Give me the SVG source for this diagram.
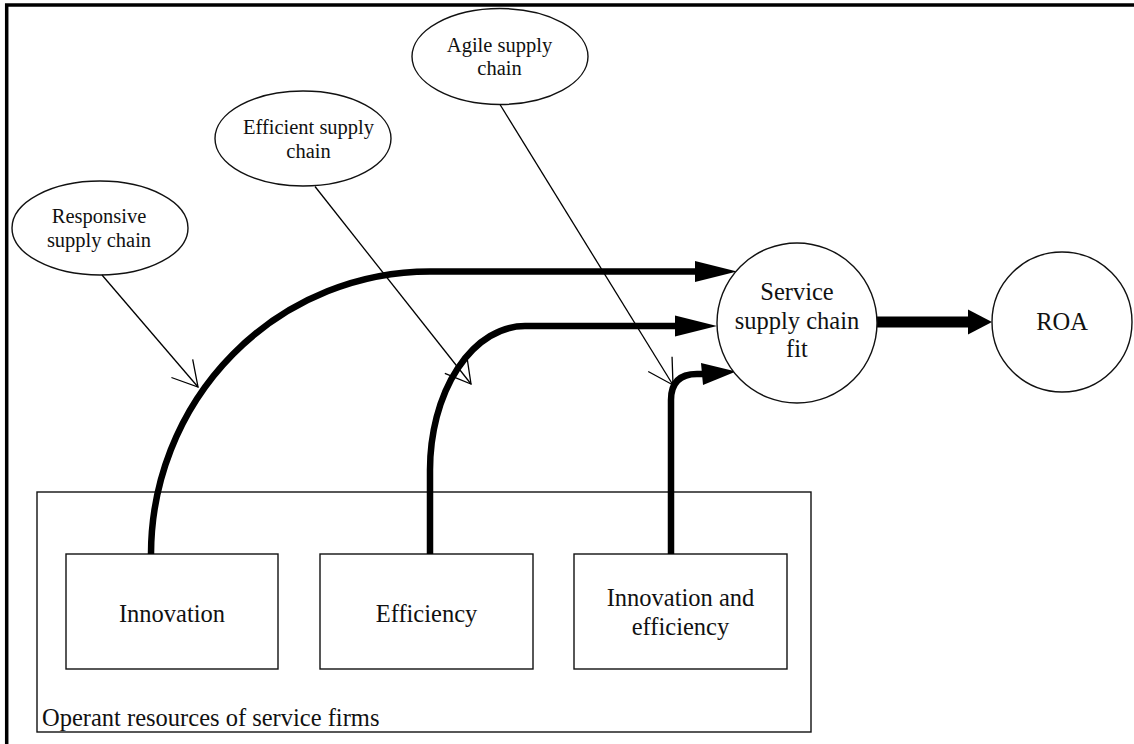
<svg xmlns="http://www.w3.org/2000/svg" width="1134" height="744" viewBox="0 0 1134 744">
<style>
.t{font-family:"Liberation Serif","DejaVu Serif",serif;fill:#111;text-anchor:middle}
.s{font-size:20.5px}
.b{font-size:24.5px}
.shape{fill:#fff;stroke:#111;stroke-width:1.4}
.thin{fill:none;stroke:#000;stroke-width:1.3}
.thick{fill:none;stroke:#000;stroke-width:6.5}
.head{fill:#000;stroke:none}
</style>
<defs>
<marker id="open" markerUnits="userSpaceOnUse" markerWidth="40" markerHeight="40" viewBox="-30 -20 40 40" refX="0" refY="0" orient="auto" overflow="visible">
<path d="M-24.5,-14 L0,0 L-24.5,14" fill="none" stroke="#000" stroke-width="1.3"/>
</marker>
</defs>
<rect width="1134" height="744" fill="#fff"/>
<path d="M6.7,744 L6.7,5 L1134,5" fill="none" stroke="#000" stroke-width="3.5"/>

<g font-family="Liberation Serif, DejaVu Serif, serif">
<g id="container">
<rect class="shape" x="37" y="492" width="774" height="240"/>
<text class="t b" x="42" y="726" text-anchor="start" style="text-anchor:start">Operant resources of service firms</text>
</g>

<g id="innovation">
<rect class="shape" x="66" y="554" width="212" height="115"/>
<text class="t b" x="172" y="621.5">Innovation</text>
</g>
<g id="efficiency">
<rect class="shape" x="320" y="554" width="213" height="115"/>
<text class="t b" x="426.5" y="621.5">Efficiency</text>
</g>
<g id="innov-eff">
<rect class="shape" x="574" y="554" width="213" height="115"/>
<text class="t b" x="680.5" y="606">Innovation and</text>
<text class="t b" x="680.5" y="635">efficiency</text>
</g>

<g id="responsive">
<ellipse class="shape" cx="100" cy="228" rx="88" ry="47"/>
<text class="t s" x="99" y="222.5">Responsive</text>
<text class="t s" x="99" y="246.5">supply chain</text>
</g>
<g id="efficient">
<ellipse class="shape" cx="303" cy="138.5" rx="88" ry="47.5"/>
<text class="t s" x="308.5" y="133.5">Efficient supply</text>
<text class="t s" x="308.5" y="157.5">chain</text>
</g>
<g id="agile">
<ellipse class="shape" cx="500" cy="56.5" rx="88" ry="48"/>
<text class="t s" x="499.5" y="51.5">Agile supply</text>
<text class="t s" x="499.5" y="75">chain</text>
</g>

<g id="connectors">
<path class="thick" d="M151,554 A279,283 0 0 1 430,271.5 L698,271.5"/>
<polygon class="head" points="695,261 737,271.5 695,282"/>
<path class="thick" d="M430,554 L430,470 A95,144 0 0 1 525,326 L678,326"/>
<polygon class="head" points="675,315.5 717,326 675,336.5"/>
<path class="thick" d="M671,554 L671,400 Q671,374 697,374 L704,374"/>
<polygon class="head" points="701,363 736,371.5 703,385"/>
<path d="M877,322 L970,322" fill="none" stroke="#000" stroke-width="11"/>
<polygon class="head" points="968,309.5 992,322 968,334.5"/>
<line class="thin" x1="102" y1="275" x2="198" y2="387" marker-end="url(#open)"/>
<line class="thin" x1="315" y1="186.5" x2="471" y2="384" marker-end="url(#open)"/>
<line class="thin" x1="500" y1="104.5" x2="673" y2="385" marker-end="url(#open)"/>
</g>

<g id="service-fit">
<circle class="shape" cx="797" cy="323" r="80"/>
<text class="t b" x="797" y="300">Service</text>
<text class="t b" x="797" y="329">supply chain</text>
<text class="t b" x="797" y="357">fit</text>
</g>
<g id="roa">
<circle class="shape" cx="1062" cy="322" r="70"/>
<text class="t b" x="1062" y="330">ROA</text>
</g>
</g>
</svg>
